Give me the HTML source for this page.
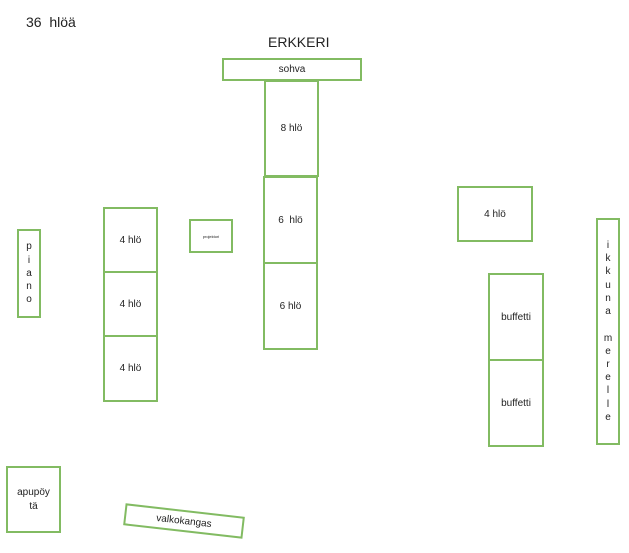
<!DOCTYPE html>
<html><head><meta charset="utf-8"><style>
html,body{margin:0;padding:0;width:629px;height:553px;background:#fff;overflow:hidden}
body{position:relative;font-family:"Liberation Sans",sans-serif;color:#222}
.b{position:absolute;box-sizing:border-box;border:2px solid #82bb62;display:flex;align-items:center;justify-content:center;text-align:center;font-size:10px;background:#fff}
.t{position:absolute;white-space:nowrap}
.v{flex-direction:column;line-height:13.2px;font-size:10px}
</style></head><body>
<div class="t" style="left:26px;top:14px;font-size:14px">36&nbsp; hlöä</div>
<div class="t" style="left:268px;top:34px;font-size:14px">ERKKERI</div>
<div class="b" style="left:222px;top:58px;width:140px;height:23px">sohva</div>
<div class="b" style="left:264px;top:80px;width:55px;height:97px">8 hlö</div>
<div class="b" style="left:263px;top:176px;width:55px;height:88px">6&nbsp; hlö</div>
<div class="b" style="left:263px;top:262px;width:55px;height:88px">6 hlö</div>
<div class="b" style="left:189px;top:219px;width:44px;height:34px;font-size:4px">projektori</div>
<div class="b" style="left:103px;top:207px;width:55px;height:66px">4 hlö</div>
<div class="b" style="left:103px;top:271px;width:55px;height:66px">4 hlö</div>
<div class="b" style="left:103px;top:335px;width:55px;height:67px">4 hlö</div>
<div class="b v" style="left:17px;top:229px;width:24px;height:89px"><div>p</div><div>i</div><div>a</div><div>n</div><div>o</div></div>
<div class="b" style="left:457px;top:186px;width:76px;height:56px">4 hlö</div>
<div class="b" style="left:488px;top:273px;width:56px;height:88px">buffetti</div>
<div class="b" style="left:488px;top:359px;width:56px;height:88px">buffetti</div>
<div class="b v" style="left:596px;top:218px;width:24px;height:227px"><div>i</div><div>k</div><div>k</div><div>u</div><div>n</div><div>a</div><div>&nbsp;</div><div>m</div><div>e</div><div>r</div><div>e</div><div>l</div><div>l</div><div>e</div></div>
<div class="b" style="left:6px;top:466px;width:55px;height:67px;line-height:14px">apupöy<br>tä</div>
<div class="b" style="left:124px;top:510px;width:120px;height:22px;transform:rotate(6.5deg)">valkokangas</div>
</body></html>
